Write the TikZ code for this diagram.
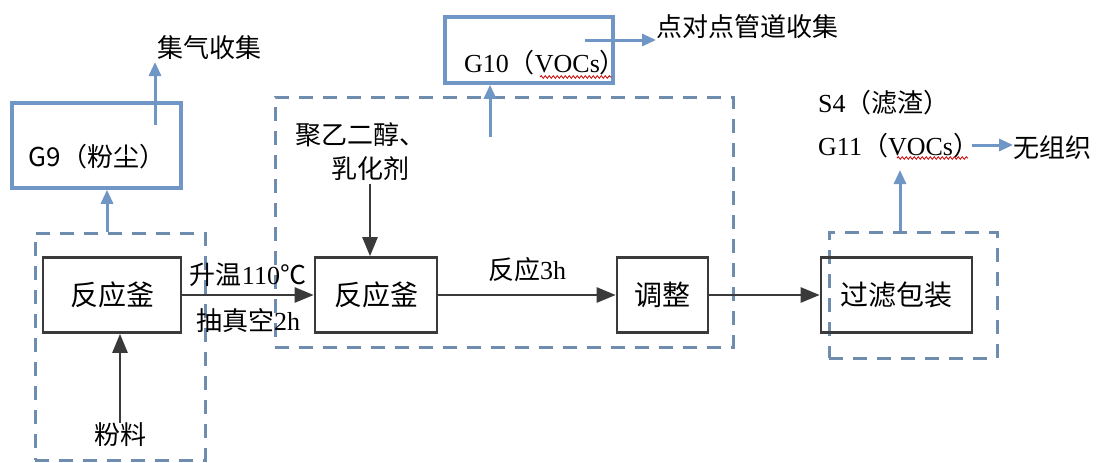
\documentclass[tikz,border=0pt]{standalone}
\usepackage{fontspec}
\setmainfont{Liberation Serif}
\newfontfamily\zhfont{Noto Sans CJK SC}
\newcommand{\zh}[1]{{\zhfont #1}}
\usetikzlibrary{arrows.meta,decorations.pathmorphing}
\definecolor{linegray}{HTML}{3A3A3A}
\definecolor{dashblue}{HTML}{6E8DAE}
\definecolor{arrowblue}{HTML}{6F96C4}
\begin{document}
\begin{tikzpicture}[x=1pt,y=-1pt,
  proc/.style={draw=linegray, line width=2.6pt, inner sep=0pt, font=\fontsize{28}{32}\selectfont\zhfont},
  lbl/.style={inner sep=0pt, font=\fontsize{26}{30}\selectfont},
  dbox/.style={draw=dashblue, line width=3pt, dash pattern=on 14pt off 10pt, inner sep=0pt},
  gbox/.style={draw=arrowblue, line width=3.5pt, inner sep=0pt},
  blk/.style={draw=linegray, line width=2.5pt, -{Triangle[length=19pt,width=15pt]}},
  blu/.style={draw=arrowblue, line width=3pt, -{Triangle[length=14pt,width=12pt]}},
  squig/.style={draw=red!80!black, line width=0.8pt, decorate, decoration={snake, amplitude=1.3pt, segment length=4pt}}
]
\useasboundingbox (0,0) rectangle (1104,463);
% dashed groups
\node[dbox, minimum width=170pt, minimum height=227pt] (d1) at (120,346.5) {};
\node[dbox, minimum width=458pt, minimum height=250pt] (d2) at (504,222) {};
\node[dbox, minimum width=168pt, minimum height=126pt] (d3) at (913,295) {};
% process boxes
\node[proc, minimum width=138pt, minimum height=75pt] (r1) at (112,295) {反应釜};
\node[proc, minimum width=122pt, minimum height=75pt] (r2) at (376,295) {反应釜};
\node[proc, minimum width=91pt, minimum height=75pt] (tz) at (662.5,295) {调整};
\node[proc, minimum width=151pt, minimum height=75pt] (gl) at (896.5,295) {过滤包装};
% emission boxes
\node[gbox, minimum width=169pt, minimum height=85pt] (g9box) at (96.5,145.5) {};
\node[lbl, font=\fontsize{26}{30}\selectfont\zhfont] (g9t) at (97,157) {G9（粉尘）};
\node[gbox, minimum width=168pt, minimum height=66pt] (g10box) at (529,50) {};
\node[lbl] (g10t) at (545,63) {G10\zh{（}VOCs\zh{）}};
% labels
\node[lbl] (fl) at (120,435) {\zh{粉料}};
\node[lbl] (j1) at (360,135) {\zh{聚乙二醇、}};
\node[lbl] (j2) at (370,169) {\zh{乳化剂}};
\node[lbl] (sw) at (248,275) {\zh{升温}110\zh{℃}};
\node[lbl] (cz) at (248,321) {\zh{抽真空}2h};
\node[lbl] (fy) at (527,270) {\zh{反应}3h};
\node[lbl, anchor=west] (jq) at (157,48) {\zh{集气收集}};
\node[lbl, anchor=west] (dd) at (656,27) {\zh{点对点管道收集}};
\node[lbl, anchor=west] (s4) at (818,103) {S4\zh{（滤渣）}};
\node[lbl, anchor=west] (g11) at (818,146) {G11\zh{（}VOCs\zh{）}};
\node[lbl, anchor=west] (wz) at (1013,148) {\zh{无组织}};
% coordinates
\coordinate (g9in) at (155,125);
\coordinate (g9out) at (155,62);
\coordinate (g10in) at (585,40);
\coordinate (d2in) at (490,137);
\coordinate (g11out) at (972,145);
% black flow
\draw[blk] (fl.north) -- (fl.north |- r1.south);
\draw[blk] (r1.east) -- (r2.west);
\draw[blk] (j2.south) ++(0,3) -- (j2.south |- r2.north);
\draw[blk] (r2.east) -- (tz.west);
\draw[blk] (tz.east) -- (gl.west);
% blue emissions
\draw[blu] (d1.north -| 107,0) -- (g9box.south -| 107,0);
\draw[blu] (g9in) -- (g9out);
\draw[blu] (d2in) -- (d2in |- g10box.south);
\draw[blu] (g10in) -- (dd.west |- g10in);
\draw[blu] (d3.north -| 900,0) -- (900,170);
\draw[blu] (g11out) -- (wz.west |- g11out);
% spell-check squiggles
\draw[squig] (540,77) -- (612,77);
\draw[squig] (897,158) -- (968,158);
\end{tikzpicture}
\end{document}
